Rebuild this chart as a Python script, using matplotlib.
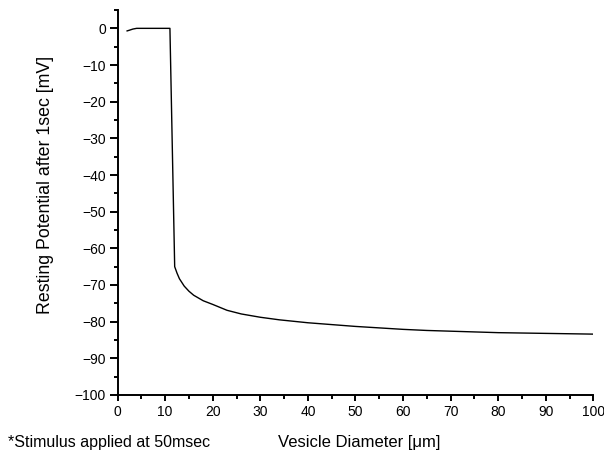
import matplotlib
matplotlib.use("Agg")
import matplotlib.pyplot as plt
from matplotlib.ticker import MultipleLocator

plt.rcParams['font.family'] = ['Liberation Sans', 'DejaVu Sans']

# Values
diameter = [2, 2.5, 3.2, 4, 6, 8, 10, 11, 12, 12.5, 13, 14, 15, 16, 18, 20, 23,
            26, 30, 34, 40, 46, 50, 55, 60, 65, 70, 75, 80, 85, 90, 95, 100]
potential = [-0.7, -0.5, -0.2, 0, 0, 0, 0, 0, -65.0, -66.8, -68.3, -70.3, -71.7,
             -72.8, -74.3, -75.3, -76.9, -77.9, -78.8, -79.5, -80.3, -80.9,
             -81.3, -81.7, -82.1, -82.4, -82.6, -82.8, -83.0, -83.1, -83.2,
             -83.3, -83.4]

fig = plt.figure(figsize=(6.04, 4.51), dpi=100)
ax = fig.add_axes([0.1947, 0.1242, 0.7876, 0.8536])

ax.plot(diameter, potential, color='black', linewidth=1.0)

ax.set_xlim(0, 100)
ax.set_ylim(-100, 5)
ax.xaxis.set_major_locator(MultipleLocator(10))
ax.xaxis.set_minor_locator(MultipleLocator(5))
ax.yaxis.set_major_locator(MultipleLocator(10))
ax.yaxis.set_minor_locator(MultipleLocator(5))

for side in ['top', 'right']:
    ax.spines[side].set_visible(False)
for side in ['left', 'bottom']:
    ax.spines[side].set_linewidth(1.4)

ax.tick_params(axis='x', which='major', direction='out', length=4.5, width=1.4,
               labelsize=10, pad=3)
ax.tick_params(axis='y', which='major', direction='out', length=6, width=1.4,
               labelsize=10, pad=2.5)
ax.tick_params(which='minor', direction='out', length=3, width=1.4)

fig.text(0.076, 0.589, 'Resting Potential after 1sec [mV]', rotation=90,
         ha='center', va='center', fontsize=12.8)
fig.text(0.594, 0.0095, 'Vesicle Diameter [\u03bcm]', ha='center',
         va='baseline', fontsize=12)
fig.text(0.013, 0.0095, '*Stimulus applied at 50msec', ha='left',
         va='baseline', fontsize=11.5)

fig.savefig('out.png', dpi=100)
